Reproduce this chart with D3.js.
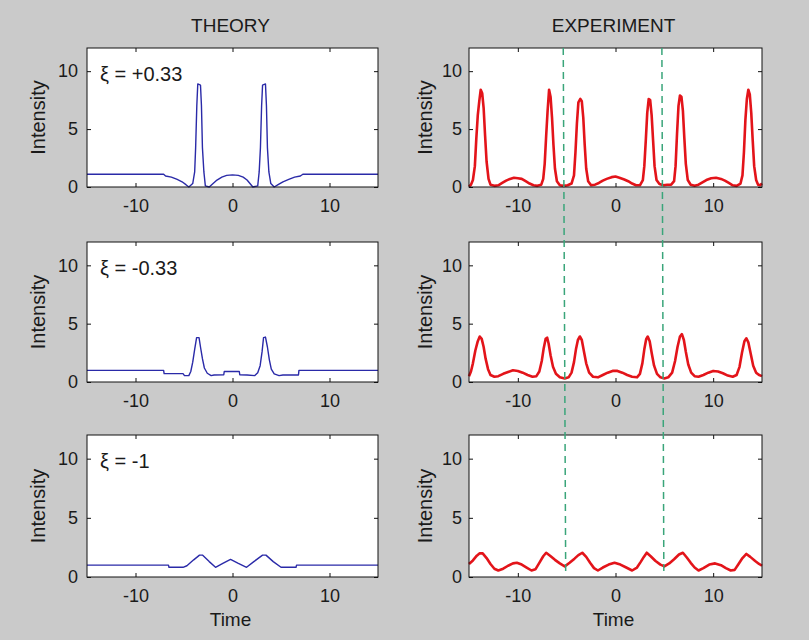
<!DOCTYPE html>
<html lang="en">
<head>
<meta charset="utf-8">
<title>Theory vs experiment</title>
<script src="https://cdn.jsdelivr.net/npm/d3@7"></script>
<style>
  body { margin: 0; background: #cacaca; }
  svg text { font-family: "Liberation Sans", Arial, sans-serif; fill: #1a1a1a; }
</style>
</head>
<body>
<script>
// --- data (time, intensity) ---
var xTicks = [-10, 0, 10];
var yTicks = [0, 5, 10];
var colTitles = ["THEORY", "EXPERIMENT"];
var xiLabels = ["\u03be = +0.33", "\u03be = -0.33", "\u03be = -1"];

var theoryTop = [[-15, 1.1], [-7.1, 1.1], [-6.9, 0.95], [-6.3, 0.85], [-5.7, 0.65], [-5.2, 0.45], [-4.8, 0.2], [-4.5, 0.0],
  [-4.1, 0.3], [-3.9, 1.3], [-3.8, 3.4], [-3.68, 7.0], [-3.58, 8.9], [-3.3, 8.8], [-3.2, 7.0], [-3.1, 3.4], [-2.95, 1.3],
  [-2.8, 0.1], [-2.4, 0.0], [-2.0, 0.3], [-1.6, 0.6], [-1.1, 0.85], [-0.6, 1.0], [0, 1.05], [0.6, 1.0], [1.1, 0.85],
  [1.5, 0.6], [1.8, 0.3], [2.1, 0.0], [2.6, 0.1], [2.75, 1.3], [2.88, 3.4], [3.0, 7.0], [3.1, 8.8], [3.4, 8.9], [3.5, 7.0],
  [3.6, 3.4], [3.75, 1.3], [3.95, 0.3], [4.3, 0.0], [4.7, 0.2], [5.2, 0.45], [5.8, 0.65], [6.4, 0.85], [7.0, 0.95],
  [7.25, 1.1], [15, 1.1]];

var theoryMid = [[-15, 1.0], [-7.1, 1.0], [-7.05, 0.72], [-5.1, 0.72], [-4.95, 0.55], [-4.5, 0.55], [-4.3, 0.9], [-4.1, 1.7],
  [-3.9, 2.8], [-3.7, 3.8], [-3.45, 3.8], [-3.3, 3.0], [-3.1, 2.0], [-2.9, 1.2], [-2.6, 0.75], [-2.2, 0.55], [-1.9, 0.6],
  [-0.9, 0.62], [-0.85, 0.9], [0.7, 0.9], [0.75, 0.62], [1.5, 0.6], [2.3, 0.55], [2.6, 0.8], [2.85, 1.4], [3.05, 2.6],
  [3.2, 3.8], [3.4, 3.85], [3.6, 3.0], [3.8, 1.9], [4.0, 1.1], [4.3, 0.7], [4.8, 0.55], [5.2, 0.6], [6.8, 0.6], [6.85, 1.0],
  [15, 1.0]];

var theoryBot = [[-15, 1.0], [-6.6, 1.0], [-6.55, 0.82], [-5.1, 0.82], [-4.7, 0.95], [-4.0, 1.45], [-3.4, 1.85], [-3.1, 1.85],
  [-2.4, 1.3], [-1.75, 0.82], [-1.0, 1.15], [-0.2, 1.48], [0.6, 1.15], [1.45, 0.82], [2.2, 1.3], [3.1, 1.85], [3.45, 1.85],
  [4.2, 1.3], [5.0, 0.82], [6.55, 0.82], [6.6, 1.0], [15, 1.0]];

var expTop = [[-15, 0.05], [-14.8, 0.2], [-14.6, 0.6], [-14.4, 1.8], [-14.25, 4.2], [-14.1, 6.2], [-13.95, 7.4], [-13.8, 8.4],
  [-13.65, 8.1], [-13.5, 6.8], [-13.35, 4.4], [-13.2, 2.2], [-13.0, 0.7], [-12.8, 0.2], [-12.4, 0.1], [-12.0, 0.15],
  [-11.6, 0.35], [-11.2, 0.55], [-10.8, 0.7], [-10.4, 0.8], [-10.0, 0.75], [-9.6, 0.7], [-9.2, 0.5], [-8.8, 0.3],
  [-8.4, 0.15], [-8.0, 0.1], [-7.6, 0.2], [-7.4, 0.7], [-7.25, 2.0], [-7.1, 4.4], [-6.95, 6.6], [-6.8, 8.4], [-6.65, 7.8],
  [-6.5, 6.0], [-6.35, 3.6], [-6.2, 1.6], [-6.0, 0.5], [-5.7, 0.15], [-5.3, 0.1], [-4.9, 0.15], [-4.5, 0.3], [-4.25, 1.0],
  [-4.1, 3.0], [-3.95, 5.5], [-3.8, 7.3], [-3.6, 7.6], [-3.45, 7.4], [-3.3, 6.0], [-3.15, 3.6], [-3.0, 1.6], [-2.8, 0.5],
  [-2.5, 0.15], [-2.1, 0.2], [-1.7, 0.35], [-1.3, 0.55], [-0.9, 0.7], [-0.4, 0.85], [0, 0.9], [0.4, 0.8], [0.9, 0.65],
  [1.3, 0.5], [1.7, 0.3], [2.1, 0.15], [2.5, 0.15], [2.8, 0.6], [2.95, 1.8], [3.1, 4.0], [3.25, 6.4], [3.4, 7.6],
  [3.55, 7.5], [3.7, 6.2], [3.85, 4.0], [4.0, 1.8], [4.2, 0.6], [4.5, 0.25], [4.9, 0.15], [5.3, 0.2], [5.7, 0.2], [6.0, 0.5],
  [6.15, 1.8], [6.3, 4.6], [6.45, 7.0], [6.6, 7.9], [6.75, 7.8], [6.9, 6.6], [7.05, 4.2], [7.2, 2.0], [7.4, 0.6], [7.7, 0.2],
  [8.1, 0.1], [8.5, 0.2], [8.9, 0.4], [9.3, 0.6], [9.8, 0.75], [10.3, 0.8], [10.8, 0.7], [11.2, 0.55], [11.6, 0.35],
  [12.0, 0.15], [12.4, 0.1], [12.8, 0.3], [13.0, 1.0], [13.15, 3.0], [13.3, 5.8], [13.45, 7.6], [13.6, 8.4], [13.75, 8.0],
  [13.9, 6.4], [14.05, 4.0], [14.2, 1.8], [14.4, 0.6], [14.6, 0.2], [14.8, 0.15], [15, 0.3]];

var expMid = [[-15, 0.5], [-14.8, 0.9], [-14.6, 1.6], [-14.35, 2.7], [-14.1, 3.5], [-13.9, 3.9], [-13.7, 3.7], [-13.5, 3.0],
  [-13.3, 2.0], [-13.05, 1.1], [-12.8, 0.6], [-12.4, 0.45], [-12.0, 0.5], [-11.5, 0.7], [-11.0, 0.85], [-10.5, 1.0],
  [-10.0, 0.95], [-9.5, 0.8], [-9.0, 0.6], [-8.5, 0.45], [-8.1, 0.5], [-7.8, 0.9], [-7.55, 1.8], [-7.35, 2.9], [-7.15, 3.7],
  [-7.0, 3.8], [-6.85, 3.3], [-6.65, 2.3], [-6.4, 1.3], [-6.1, 0.7], [-5.7, 0.4], [-5.2, 0.3], [-4.8, 0.4], [-4.5, 0.8],
  [-4.25, 1.7], [-4.05, 2.8], [-3.85, 3.6], [-3.65, 3.9], [-3.45, 3.6], [-3.25, 2.7], [-3.0, 1.6], [-2.7, 0.8], [-2.3, 0.45],
  [-1.8, 0.4], [-1.3, 0.6], [-0.8, 0.8], [-0.3, 0.95], [0.2, 0.95], [0.7, 0.8], [1.2, 0.6], [1.7, 0.45], [2.2, 0.4],
  [2.5, 0.7], [2.75, 1.6], [2.95, 2.8], [3.15, 3.7], [3.3, 3.9], [3.5, 3.5], [3.7, 2.5], [3.95, 1.4], [4.25, 0.7],
  [4.6, 0.4], [5.0, 0.3], [5.4, 0.4], [5.8, 0.8], [6.1, 1.8], [6.35, 3.0], [6.6, 3.9], [6.8, 4.1], [7.0, 3.6], [7.2, 2.6],
  [7.45, 1.5], [7.75, 0.8], [8.1, 0.5], [8.5, 0.45], [9.0, 0.6], [9.5, 0.8], [10.0, 0.95], [10.5, 0.9], [11.0, 0.75],
  [11.5, 0.55], [12.0, 0.45], [12.4, 0.6], [12.7, 1.3], [12.95, 2.5], [13.2, 3.5], [13.4, 3.75], [13.6, 3.4], [13.85, 2.4],
  [14.1, 1.4], [14.4, 0.8], [14.7, 0.6], [15, 0.5]];

var expBot = [[-15, 1.1], [-14.6, 1.4], [-14.2, 1.8], [-13.9, 2.0], [-13.6, 2.0], [-13.2, 1.6], [-12.8, 1.1], [-12.4, 0.7],
  [-12.0, 0.55], [-11.5, 0.7], [-11.0, 0.95], [-10.5, 1.15], [-10.1, 1.2], [-9.6, 1.05], [-9.1, 0.8], [-8.6, 0.55],
  [-8.2, 0.65], [-7.8, 1.2], [-7.4, 1.75], [-7.1, 2.05], [-6.7, 1.8], [-6.2, 1.45], [-5.7, 1.15], [-5.2, 0.9], [-4.7, 1.2],
  [-4.2, 1.55], [-3.8, 1.85], [-3.4, 2.05], [-3.0, 1.7], [-2.6, 1.2], [-2.2, 0.75], [-1.8, 0.55], [-1.3, 0.8], [-0.7, 1.05],
  [-0.1, 1.2], [0.5, 1.05], [1.1, 0.8], [1.7, 0.55], [2.2, 0.8], [2.6, 1.3], [2.9, 1.7], [3.2, 2.05], [3.6, 1.75],
  [4.1, 1.35], [4.6, 1.05], [5.0, 0.9], [5.5, 1.15], [6.0, 1.5], [6.5, 1.9], [6.9, 2.05], [7.3, 1.65], [7.7, 1.2],
  [8.1, 0.8], [8.5, 0.55], [9.0, 0.75], [9.6, 1.05], [10.2, 1.15], [10.8, 1.0], [11.3, 0.75], [11.8, 0.55], [12.2, 0.6],
  [12.6, 1.1], [13.0, 1.6], [13.4, 1.95], [13.8, 1.7], [14.3, 1.35], [14.7, 1.1], [15, 0.95]];

// dashed guide lines on experiment column (time at top / bottom)
var guideTop = [-5.35, 4.75];
var guideBot = [-5.1, 4.95];

// --- layout ---
var w = 809, h = 640;
var cols = [{x0: 87, x1: 378}, {x0: 469, x1: 762}];
var rows = [{y0: 48, y1: 187}, {y0: 242, y1: 382}, {y0: 435, y1: 577}];
var series = [[theoryTop, expTop], [theoryMid, expMid], [theoryBot, expBot]];
var lineColor = ["#2a2aa8", "#e3141a"];
var lineWidth = [1.4, 2.6];

var svg = d3.select("body").append("svg")
  .attr("width", w)
  .attr("height", h);

svg.append("rect").attr("width", w).attr("height", h).attr("fill", "#cacaca");

var fs = 18;
// plain hyphen for negatives, like the original figure
var plain = function(d) { return String(d); };

rows.forEach(function(r, ri) {
  cols.forEach(function(c, ci) {
    var x = d3.scaleLinear().domain([-15, 15]).range([c.x0, c.x1]);
    var y = d3.scaleLinear().domain([0, 12]).range([r.y1, r.y0]);

    var g = svg.append("g");
    g.append("rect")
      .attr("x", c.x0).attr("y", r.y0)
      .attr("width", c.x1 - c.x0).attr("height", r.y1 - r.y0)
      .attr("fill", "#fff");

    // curve
    var line = d3.line().x(function(d) { return x(d[0]); }).y(function(d) { return y(d[1]); });
    g.append("path")
      .datum(series[ri][ci])
      .attr("d", line)
      .attr("fill", "none")
      .attr("stroke", lineColor[ci])
      .attr("stroke-width", lineWidth[ci])
      .attr("stroke-linejoin", "round");

    // axes, MATLAB style ticks pointing inwards
    g.append("g").attr("transform", "translate(0," + r.y1 + ")")
      .call(d3.axisBottom(x).tickValues(xTicks).tickFormat(plain).tickSize(-4).tickPadding(12));
    g.append("g").attr("transform", "translate(" + c.x0 + ",0)")
      .call(d3.axisLeft(y).tickValues(yTicks).tickFormat(plain).tickSize(-4).tickPadding(ci == 0 ? 9 : 7));
    g.append("g").attr("transform", "translate(0," + r.y0 + ")")
      .call(d3.axisTop(x).tickValues(xTicks).tickSize(-4).tickFormat(""));
    g.append("g").attr("transform", "translate(" + c.x1 + ",0)")
      .call(d3.axisRight(y).tickValues(yTicks).tickSize(-4).tickFormat(""));

    g.selectAll(".domain").remove();
    g.selectAll(".tick line").attr("stroke", "#111");
    g.selectAll(".tick text")
      .attr("font-size", fs)
      .attr("font-family", "Liberation Sans, Arial, sans-serif")
      .attr("fill", "#1a1a1a");

    g.append("rect")
      .attr("x", c.x0).attr("y", r.y0)
      .attr("width", c.x1 - c.x0).attr("height", r.y1 - r.y0)
      .attr("fill", "none").attr("stroke", "#111").attr("stroke-width", 1);

    // y label
    g.append("text")
      .attr("transform", "translate(" + (c.x0 - (ci == 0 ? 49 : 44)) + "," + ((r.y0 + r.y1) / 2) + ") rotate(-90)")
      .attr("text-anchor", "middle")
      .attr("dy", "0.35em")
      .attr("font-size", 20)
      .text("Intensity");

    if (ci == 0) {
      g.append("text")
        .attr("x", c.x0 + 13).attr("y", r.y0 + 33)
        .attr("font-size", 20)
        .text(xiLabels[ri]);
    }
    if (ri == 0) {
      g.append("text")
        .attr("x", (c.x0 + c.x1) / 2 - 2).attr("y", 32)
        .attr("text-anchor", "middle")
        .attr("font-size", 19)
        .text(colTitles[ci]);
    }
    if (ri == rows.length - 1) {
      g.append("text")
        .attr("x", (c.x0 + c.x1) / 2 - 2).attr("y", 626)
        .attr("text-anchor", "middle")
        .attr("font-size", 19)
        .text("Time");
    }
  });
});

// green dashed guides through the experiment column
var xe = d3.scaleLinear().domain([-15, 15]).range([cols[1].x0, cols[1].x1]);
svg.selectAll(".guide")
  .data(guideTop)
  .enter()
  .append("line")
  .attr("class", "guide")
  .attr("x1", function(d) { return xe(d); })
  .attr("x2", function(d, i) { return xe(guideBot[i]); })
  .attr("y1", rows[0].y0)
  .attr("y2", rows[2].y1 - 2)
  .attr("stroke", "#3aa57a")
  .attr("stroke-width", 1.5)
  .attr("stroke-dasharray", "7,5");
</script>
</body>
</html>
